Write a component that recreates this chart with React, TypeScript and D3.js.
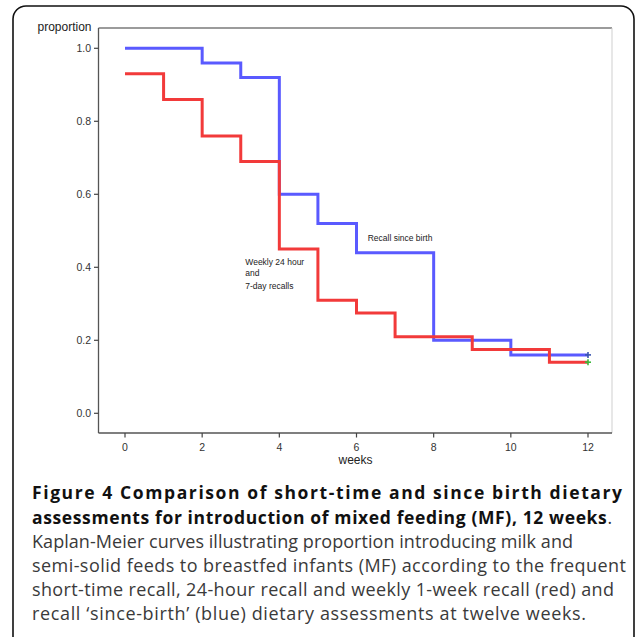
import React from "react";
import * as d3 from "d3";

const weeks = [0, 1, 2, 3, 4, 5, 6, 7, 8, 9, 10, 11, 12];
const sinceBirth = [1.0, 1.0, 0.96, 0.92, 0.6, 0.52, 0.44, 0.44, 0.2, 0.2, 0.16, 0.16, 0.16];
const weeklyRecalls = [0.93, 0.86, 0.76, 0.69, 0.45, 0.31, 0.275, 0.21, 0.21, 0.175, 0.175, 0.14, 0.14];
const xTicks = [0, 2, 4, 6, 8, 10, 12];
const yTicks = [0, 0.2, 0.4, 0.6, 0.8, 1.0];
const captionTitle1 = "Figure 4 Comparison of short-time and since birth dietary";
const captionTitle2 = "assessments for introduction of mixed feeding (MF), 12 weeks";
const captionBody = [
  "Kaplan-Meier curves illustrating proportion introducing milk and",
  "semi-solid feeds to breastfed infants (MF) according to the frequent",
  "short-time recall, 24-hour recall and weekly 1-week recall (red) and",
  "recall \u2018since-birth\u2019 (blue) dietary assessments at twelve weeks.",
];
const captionBodyWidths = [541, 594, 582, 554];

const W = 636;
const H = 637;

export default function App() {
  const x = d3.scaleLinear().domain([0, 12]).range([125, 588]);
  const y = d3.scaleLinear().domain([0, 1]).range([413.3, 48.3]);
  const plot = { left: 98.5, right: 612, top: 28, bottom: 433 };

  const line = d3
    .line<number>()
    .x((_, i) => x(weeks[i]))
    .y((d) => y(d))
    .curve(d3.curveStepAfter);

  const chartFont = "'Liberation Sans', Arial, sans-serif";
  const capFont = "'Open Sans', 'Noto Sans', sans-serif";
  const lastI = weeks.length - 1;

  return (
    <svg
      width={W}
      height={H}
      style={{ position: "absolute", left: 0, top: 0, background: "#fff" }}
    >
      <rect x={13} y={6} width={621} height={700} rx={13} ry={13} fill="#fff" stroke="#111" strokeWidth={1.6} />

      {/* plot frame */}
      <line x1={plot.left} x2={plot.right} y1={plot.top} y2={plot.top} stroke="#7a7a7a" strokeWidth={1.3} />
      <line x1={plot.right} x2={plot.right} y1={plot.top} y2={plot.bottom} stroke="#cfcfcf" strokeWidth={1} />
      <line x1={plot.left} x2={plot.left} y1={plot.top} y2={plot.bottom} stroke="#555" strokeWidth={1.3} />
      <line x1={plot.left} x2={plot.right} y1={plot.bottom} y2={plot.bottom} stroke="#555" strokeWidth={1.3} />

      {/* y axis */}
      {yTicks.map((t) => (
        <g key={"y" + t}>
          <line x1={94} x2={plot.left} y1={y(t)} y2={y(t)} stroke="#444" strokeWidth={1.2} />
          <text x={91} y={y(t) + 3.6} textAnchor="end" fontFamily={chartFont} fontSize={10.5} fill="#333">
            {d3.format(".1f")(t)}
          </text>
        </g>
      ))}
      <text x={37.5} y={30.8} fontFamily={chartFont} fontSize={12} fill="#222">
        proportion
      </text>

      {/* x axis */}
      {xTicks.map((t) => (
        <g key={"x" + t}>
          <line x1={x(t)} x2={x(t)} y1={plot.bottom} y2={plot.bottom + 4.5} stroke="#444" strokeWidth={1.2} />
          <text x={x(t)} y={450.5} textAnchor="middle" fontFamily={chartFont} fontSize={10.5} fill="#333">
            {t}
          </text>
        </g>
      ))}
      <text x={355.5} y={464} textAnchor="middle" fontFamily={chartFont} fontSize={12} fill="#222">
        weeks
      </text>

      {/* curves */}
      <path d={line(sinceBirth) || ""} fill="none" stroke="#5a5aff" strokeWidth={3} />
      <path d={line(weeklyRecalls) || ""} fill="none" stroke="#f23a3a" strokeWidth={3} />

      {/* censor marks */}
      <g stroke="#3a55b0" strokeWidth={1.6}>
        <line x1={x(12) - 3} x2={x(12) + 3} y1={y(sinceBirth[lastI])} y2={y(sinceBirth[lastI])} />
        <line x1={x(12)} x2={x(12)} y1={y(sinceBirth[lastI]) - 3} y2={y(sinceBirth[lastI]) + 3} />
      </g>
      <g stroke="#3cb83c" strokeWidth={1.6}>
        <line x1={x(12) - 3} x2={x(12) + 3} y1={y(weeklyRecalls[lastI])} y2={y(weeklyRecalls[lastI])} />
        <line x1={x(12)} x2={x(12)} y1={y(weeklyRecalls[lastI]) - 3} y2={y(weeklyRecalls[lastI]) + 3} />
      </g>

      {/* labels */}
      <text x={367.7} y={240.7} fontFamily={chartFont} fontSize={8.5} fill="#222">
        Recall since birth
      </text>
      <text fontFamily={chartFont} fontSize={8.5} fill="#222">
        <tspan x={245.3} y={265.3}>Weekly 24 hour</tspan>
        <tspan x={245.3} y={275.7}>and</tspan>
        <tspan x={245.3} y={289}>7-day recalls</tspan>
      </text>

      {/* caption */}
      <text x={32} y={499} fontFamily={capFont} fontSize={17.5} fontWeight={700} fill="#111"
        textLength={590} lengthAdjust="spacing">
        {captionTitle1}
      </text>
      <text x={32} y={523.5} fontFamily={capFont} fontSize={17.5} fill="#111"
        textLength={580} lengthAdjust="spacing">
        <tspan fontWeight={700}>{captionTitle2}</tspan>
        <tspan fill="#333">.</tspan>
      </text>
      {captionBody.map((s, i) => (
        <text key={i} x={32} y={547.5 + i * 24.3} fontFamily={capFont} fontSize={18} fill="#3a3a3a"
          textLength={captionBodyWidths[i]} lengthAdjust="spacing">
          {s}
        </text>
      ))}
    </svg>
  );
}
